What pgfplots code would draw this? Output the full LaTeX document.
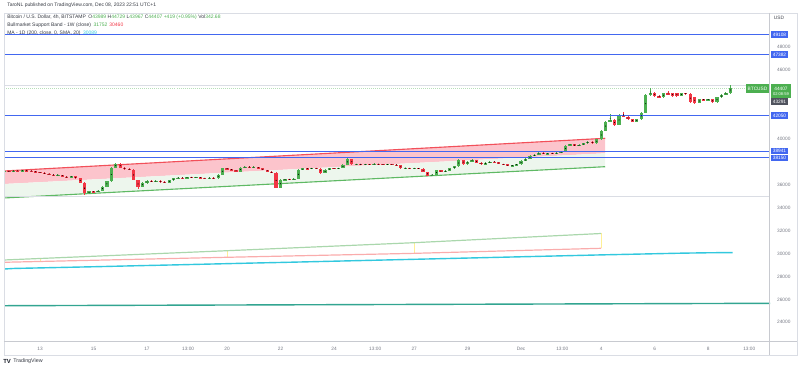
\documentclass[border=0pt]{standalone}
\usepackage{fontspec}
\setmainfont{Liberation Sans}
\usepackage{pgfplots}
\usepackage{pgfplotstable}
\pgfplotsset{compat=1.18}
\definecolor{up}{RGB}{76,175,80}
\definecolor{dn}{RGB}{242,54,69}
\definecolor{tvblue}{RGB}{66,103,240}
\definecolor{chpink}{RGB}{252,196,204}
\definecolor{chgreen}{RGB}{237,246,237}
\definecolor{chred}{RGB}{242,80,90}
\definecolor{chgrn}{RGB}{95,185,100}
\definecolor{bandg}{RGB}{170,215,172}
\definecolor{bandr}{RGB}{250,172,172}
\definecolor{bandy}{RGB}{255,240,150}
\definecolor{macyan}{RGB}{50,200,222}
\definecolor{tealc}{RGB}{50,165,145}
\definecolor{txt}{RGB}{19,23,34}
\definecolor{axgray}{RGB}{120,123,134}
\definecolor{framec}{RGB}{218,221,228}
\definecolor{darkbox}{RGB}{80,83,94}
\newcommand\tkf{\fontsize{3.4}{4}\selectfont}
\newcommand\lgf{\fontsize{3.55}{4.2}\selectfont}
\pgfplotsset{candle/.style={only marks, mark=*, mark size=0.01pt,
  mark options={draw=none, fill=none},
  error bars/.cd, y dir=both, y explicit, error mark=none}}

% i open high low close
\pgfplotstableread{
i o h l c
0 37150 37260 37110 37200
2 37170 37280 37150 37230
4 37200 37300 37180 37250
12 36830 36910 36800 36870
15 36660 36790 36620 36740
19 35270 35480 35180 35420
21 35380 35560 35340 35500
22 35500 35900 35460 35850
23 35850 36360 35800 36300
24 36300 37560 36260 37500
25 37500 37900 37450 37820
31 35840 36220 35800 36160
32 36160 36380 36110 36330
34 36280 36400 36240 36350
37 36200 36450 36170 36400
38 36400 36620 36360 36570
39 36570 36680 36530 36620
41 36590 36720 36560 36680
43 36640 36710 36600 36660
46 36570 36650 36530 36610
48 36560 36950 36530 36900
49 36900 37500 36870 37450
53 37150 37550 37120 37500
54 37500 37640 37460 37580
56 37530 37600 37490 37560
62 35750 36470 35720 36420
63 36420 36550 36380 36500
65 36460 36570 36430 36520
66 36520 37350 36490 37300
67 37300 37480 37260 37430
69 37400 37500 37370 37450
72 37030 37350 37000 37300
73 37300 37490 37270 37440
75 37410 37510 37380 37460
76 37460 37780 37430 37730
77 37730 38320 37700 38250
79 37790 37850 37750 37810
81 37760 37850 37730 37800
83 37770 37870 37740 37820
86 37760 37840 37720 37800
90 37440 37510 37400 37470
92 37420 37500 37380 37450
96 36800 36950 36760 36900
97 36900 37290 36870 37250
99 37150 37260 37110 37210
100 37210 37480 37180 37440
101 37440 37670 37400 37620
102 37620 38230 37590 38170
104 37800 38070 37770 38020
105 38020 38220 37990 38170
108 37800 37950 37760 37900
109 37900 38070 37870 38020
114 37640 37770 37600 37730
115 37730 37830 37690 37780
116 37780 38130 37750 38080
117 38080 38300 38040 38250
118 38250 38580 38220 38520
119 38520 38660 38480 38600
120 38600 38860 38570 38800
122 38690 38810 38650 38760
124 38730 38830 38690 38780
125 38780 38950 38740 38890
126 38890 39480 38860 39420
127 39420 39600 39380 39540
129 39390 39530 39350 39480
130 39480 39680 39440 39620
131 39620 39830 39580 39770
133 39620 40030 39580 39970
134 39970 40780 39930 40720
135 40720 41600 40680 41510
136 41510 42150 41450 41660
138 41220 42150 41180 42100
142 41510 41770 41470 41720
143 41720 42360 41680 42300
144 42300 43900 42250 43840
145 43840 44420 43780 44040
148 43640 44050 43600 44000
152 43760 44040 43720 43990
156 43170 43520 43120 43460
158 43420 43510 43380 43460
160 43200 43690 43150 43640
161 43640 43890 43600 43840
162 43840 44090 43800 44040
163 43989 44729 43967 44407
}\upc

\pgfplotstableread{
i o h l c
1 37200 37240 37130 37170
3 37230 37270 37170 37200
5 37250 37290 37190 37220
6 37220 37260 37140 37180
7 37180 37210 37060 37100
8 37100 37140 37020 37060
9 37060 37090 36930 36960
10 36960 37000 36860 36900
11 36900 36940 36790 36830
13 36870 36900 36690 36720
14 36720 36760 36580 36660
16 36740 36770 36520 36560
17 36560 36600 36150 36200
18 36200 36250 35110 35270
20 35420 35460 35330 35380
26 37820 37880 37460 37500
27 37500 37540 37330 37390
28 37390 37450 37250 37300
29 37300 37340 36380 36420
30 36420 36460 35640 35840
33 36330 36380 36230 36280
35 36350 36380 36200 36250
36 36250 36290 36150 36200
40 36620 36660 36540 36590
42 36680 36720 36600 36640
44 36660 36700 36550 36590
45 36590 36630 36530 36570
47 36610 36640 36520 36560
50 37450 37490 37310 37350
51 37350 37400 37260 37300
52 37300 37330 37100 37150
55 37580 37620 37490 37530
57 37560 37590 37400 37430
58 37430 37460 37260 37300
59 37300 37330 37110 37150
60 37150 37190 37000 37050
61 37050 37090 35690 35750
64 36500 36540 36420 36460
68 37430 37470 37360 37400
70 37450 37490 37380 37420
71 37420 37450 36980 37030
74 37440 37480 37370 37410
78 38250 38280 37750 37790
80 37810 37850 37720 37760
82 37800 37830 37730 37770
84 37820 37860 37750 37790
85 37790 37830 37720 37760
87 37800 37830 37730 37770
88 37770 37800 37660 37700
89 37700 37730 37400 37440
91 37470 37510 37380 37420
93 37450 37490 37360 37400
94 37400 37440 37080 37120
95 37120 37160 36750 36800
98 37250 37290 37100 37150
103 38170 38200 37760 37800
106 38170 38200 37890 37930
107 37930 37970 37750 37800
110 38020 38070 37950 37990
111 37990 38030 37780 37820
112 37820 37860 37730 37780
113 37780 37810 37600 37640
121 38800 38840 38650 38690
123 38760 38800 38690 38730
128 39540 39580 39350 39390
132 39770 39810 39580 39620
137 41660 41720 41150 41220
139 42100 42380 41900 41950
140 41950 42000 41650 41720
141 41720 41760 41450 41510
146 44040 44090 43700 43750
147 43750 43800 43580 43640
149 44000 44210 43800 43840
150 43990 44030 43700 43760
151 43980 44040 43700 43760
153 43990 44030 43900 43950
154 43950 43990 43100 43200
155 43650 43700 43050 43120
157 43460 43500 43380 43420
159 43460 43500 43150 43200
}\dnc

\begin{document}
\begin{tikzpicture}
\useasboundingbox (0,0) rectangle (200mm,92.5mm);
\begin{axis}[
  at={(1mm,7mm)}, anchor=south west, scale only axis,
  width=191.5mm, height=82.25mm,
  xmin=-0.1, xmax=171.9, ymin=22284, ymax=50995,
  axis line style={draw=none}, major tick length=0pt,
  xtick={8,20,32,41.25,50,62,74,83.25,92,104,116,125.25,134,146,158,167.25},
  xticklabels={13,15,17,13:00,20,22,24,13:00,27,29,Dec,13:00,4,6,8,13:00},
  xticklabel style={font=\tkf, text=axgray, anchor=center, yshift=-1.75mm},
  ytick={24000,26000,28000,30000,32000,34000,36000,40000,46000,48000},
  yticklabel pos=right,
  scaled y ticks=false,
  yticklabel style={font=\tkf, text=axgray, anchor=west, xshift=0.55mm,
    /pgf/number format/1000 sep={}, /pgf/number format/assume math mode=true},
  clip=true,
]
% parallel channel
\addplot[draw=none, fill=chpink] coordinates {(-0.1,37207) (134.9,40061) (134.9,38752) (-0.1,36072)} -- cycle;
\addplot[draw=none, fill=chgreen] coordinates {(-0.1,36072) (134.9,38752) (134.9,37582) (-0.1,34851)} -- cycle;
\addplot[chred, line width=0.28mm] coordinates {(-0.1,37207) (134.9,40061)};
\addplot[chgrn, line width=0.28mm] coordinates {(-0.1,34851) (134.9,37582)};
% horizontal reference lines
\addplot[framec, line width=0.2mm] coordinates {(-0.1,34965) (171.9,34965)};
\addplot[framec, line width=0.15mm] coordinates {(-0.1,44700) (171.9,44700)};
\addplot[up!40, line width=0.15mm, densely dotted] coordinates {(-0.1,44407) (171.9,44407)};
% bull market support band
\addplot[bandy, line width=0.2mm] coordinates {(8,29311) (8,29571)};
\addplot[bandy, line width=0.2mm] coordinates {(50,29676) (50,30250)};
\addplot[bandy, line width=0.2mm] coordinates {(92,30020) (92,30950)};
\addplot[bandy, line width=0.2mm] coordinates {(134,30460) (134,31752)};
\addplot[bandg, line width=0.3mm] coordinates {(-0.1,29440) (8,29571) (50,30250) (92,30950) (134,31752)};
\addplot[bandr, line width=0.3mm] coordinates {(-0.1,29240) (8,29311) (50,29676) (92,30020) (134,30460)};
% MA 1D 200
\addplot[macyan, line width=0.35mm] coordinates {
(-0.1,28650) (2,28700) (8,28750) (14,28800) (20,28850) (26,28905) (32,28960)
(38,29010) (44,29065) (50,29120) (56,29175) (62,29225) (68,29280) (74,29335)
(80,29390) (86,29445) (92,29500) (98,29555) (104,29610) (110,29665) (116,29720)
(122,29775) (128,29830) (134,29885) (140,29935) (146,29985) (152,30035) (158,30070) (163.5,30089)};
% long term line
\addplot[tealc, line width=0.35mm] coordinates {(-0.1,25450) (171.9,25660)};
% candles: wicks
\addplot[candle, error bar style={line width=0.22mm, color=up}]
  table[x=i, y expr={(\thisrow{h}+\thisrow{l})/2}, y error expr={(\thisrow{h}-\thisrow{l})/2}] {\upc};
\addplot[candle, error bar style={line width=0.22mm, color=dn}]
  table[x=i, y expr={(\thisrow{h}+\thisrow{l})/2}, y error expr={(\thisrow{h}-\thisrow{l})/2}] {\dnc};
% candles: bodies
\addplot[candle, error bar style={line width=0.82mm, color=up}]
  table[x=i, y expr={(\thisrow{o}+\thisrow{c})/2}, y error expr={abs(\thisrow{c}-\thisrow{o})/2}] {\upc};
\addplot[candle, error bar style={line width=0.82mm, color=dn}]
  table[x=i, y expr={(\thisrow{o}+\thisrow{c})/2}, y error expr={abs(\thisrow{c}-\thisrow{o})/2}] {\dnc};
% horizontal lines (drawings)
\addplot[tvblue, line width=0.3mm] coordinates {(-0.1,49108) (171.9,49108)};
\addplot[tvblue, line width=0.3mm] coordinates {(-0.1,47382) (171.9,47382)};
\addplot[tvblue, line width=0.3mm] coordinates {(-0.1,42050) (171.9,42050)};
\addplot[tvblue, line width=0.3mm] coordinates {(-0.1,38941) (171.9,38941)};
\addplot[tvblue, line width=0.3mm] coordinates {(-0.1,38400) (171.9,38400)};
\end{axis}

\begin{scope}[shift={(0mm,92.5mm)}, x=0.25mm, y=-0.25mm]
% frame
\draw[framec, line width=0.2mm] (4,13) rectangle (797,355);
\draw[framec!80!gray, line width=0.25mm] (770,13) -- (770,355);
\draw[framec!80!gray, line width=0.25mm] (4,342) -- (797,342);
% header and legend
\node[anchor=west, inner sep=0, font=\lgf, text=txt!85] at (7,5.5) {TaroNL published on TradingView.com, Dec 08, 2023 22:51 UTC+1};
\node[anchor=west, inner sep=0, font=\lgf, text=txt!85] at (7,17.3) {Bitcoin / U.S. Dollar, 4h, BITSTAMP\hspace{0.5em}O\textcolor{up}{43989}\hspace{0.3em}H\textcolor{up}{44729}\hspace{0.3em}L\textcolor{up}{43967}\hspace{0.3em}C\textcolor{up}{44407}\hspace{0.3em}\textcolor{up}{+419 (+0.95\%)}\hspace{0.3em}Vol\textcolor{up}{342.68}};
\node[anchor=west, inner sep=0, font=\lgf, text=txt!85] at (7,25.7) {Bullmarket Support Band - 1W (close)\hspace{0.5em}\textcolor{up}{31752}\hspace{0.4em}\textcolor{dn}{30460}};
\node[anchor=west, inner sep=0, font=\lgf, text=txt!85] at (7,33.6) {MA - 1D (200, close, 0, SMA, 20)\hspace{0.5em}\textcolor{macyan}{30089}};
% price axis header
\node[inner sep=0, font=\tkf, text=txt!80] at (779,18) {USD};
% price labels
\tikzset{pbox/.style={inner sep=0, minimum width=4.4mm, minimum height=1.65mm, text=white, font=\tkf}}
\node[pbox, fill=tvblue] at (779.5,34.6) {49108};
\node[pbox, fill=tvblue] at (779.5,54.6) {47382};
\node[inner sep=0, minimum width=5.1mm, minimum height=3.4mm, fill=up, text=white, font=\tkf, align=center] at (781,91.2) {44407\\[-0.6pt]{\fontsize{2.9}{3.4}\selectfont 02:08:59}};
\node[pbox, fill=darkbox] at (779.5,101.4) {43291};
\node[pbox, fill=tvblue] at (779.5,115.5) {42050};
\node[pbox, fill=tvblue] at (779.5,151.2) {38941};
\node[pbox, fill=tvblue] at (779.5,157.9) {38150};
\node[inner sep=0, minimum width=5.75mm, minimum height=2.2mm, fill=up, text=white, font=\tkf] at (757.5,88.5) {BTCUSD};
% logo
\node[anchor=west, inner sep=0, font=\fontsize{4.2}{5}\selectfont\bfseries, text=txt] at (3,361) {TV};
\node[anchor=west, inner sep=0, font=\fontsize{3.8}{4.5}\selectfont, text=txt!85] at (13,361) {TradingView};
\end{scope}
\end{tikzpicture}
\end{document}
